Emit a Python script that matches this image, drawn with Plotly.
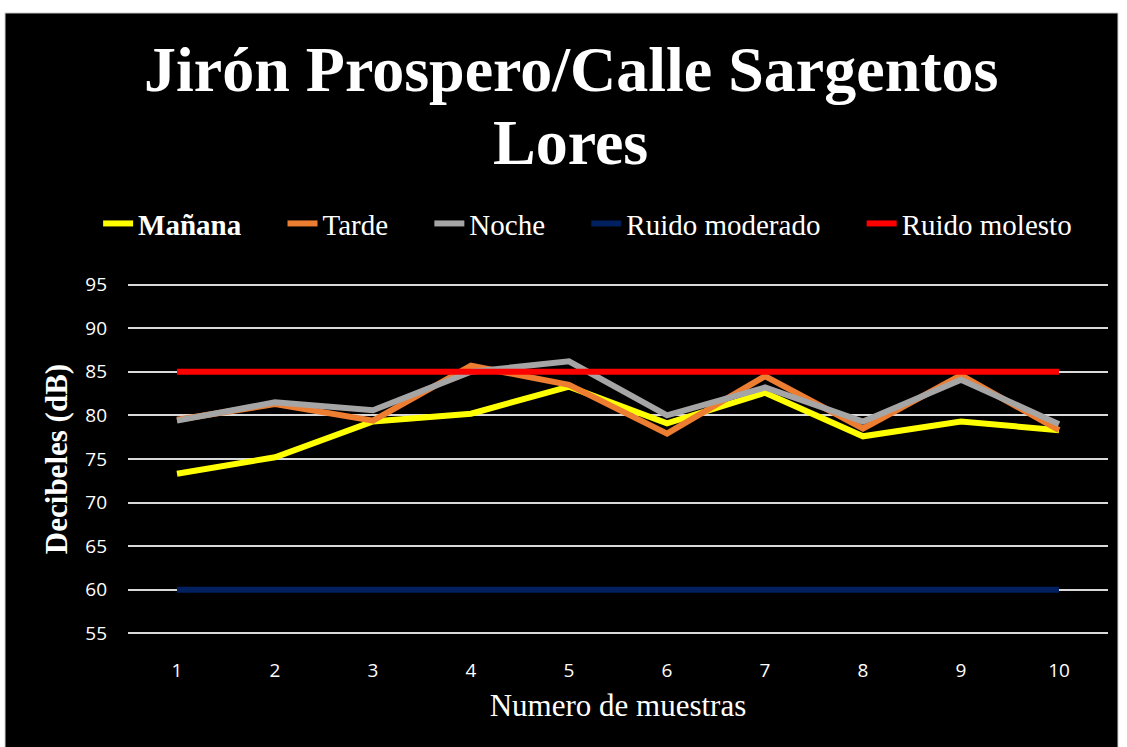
import plotly.graph_objects as go

# ---- data ----
muestras = [1, 2, 3, 4, 5, 6, 7, 8, 9, 10]
manana = [73.3, 75.2, 79.3, 80.2, 83.3, 79.1, 82.6, 77.6, 79.3, 78.3]
tarde = [79.5, 81.3, 79.4, 85.7, 83.5, 77.9, 84.5, 78.5, 84.6, 78.3]
noche = [79.4, 81.5, 80.6, 85.0, 86.2, 80.0, 83.2, 79.3, 84.1, 79.0]
ruido_moderado = [60] * 10
ruido_molesto = [85] * 10

pad = "\u00a0" * 5  # espacio extra entre entradas de la leyenda
series = [
    ("<b>Mañana</b>" + pad, manana, "#FFFF00"),
    ("Tarde" + pad, tarde, "#ED7D31"),
    ("Noche" + pad, noche, "#A5A5A5"),
    ("Ruido moderado" + pad, ruido_moderado, "#002060"),
    ("Ruido molesto", ruido_molesto, "#FF0000"),
]

serif = "Liberation Serif, Times New Roman, serif"
sans = "Open Sans, Noto Sans, sans-serif"

fig = go.Figure()
for name, vals, color in series:
    fig.add_trace(go.Scatter(
        x=muestras, y=vals, name=name, mode="lines",
        line=dict(color=color, width=6),
        hovertemplate="%{y}<extra></extra>",
    ))

# fondo negro con borde blanco arriba (como en la imagen)
fig.add_shape(type="rect", xref="paper", yref="paper",
              x0=-0.1255, x1=1.0102, y0=-0.33, y1=1.76,
              fillcolor="black", line=dict(color="#D0D0D0", width=1), layer="below")

# título en dos líneas
for txt, yy in [("<b>Jirón Prospero/Calle Sargentos</b>", 1.600), ("<b>Lores</b>", 1.395)]:
    fig.add_annotation(
        text=txt, xref="paper", yref="paper", x=0.452, y=yy,
        xanchor="center", yanchor="middle", showarrow=False,
        font=dict(family=serif, size=64, color="white"),
    )

fig.update_layout(
    width=1127, height=747,
    margin=dict(l=128, r=19, t=282, b=111),
    paper_bgcolor="white",
    plot_bgcolor="black",
    legend=dict(
        orientation="h", x=0.469, xanchor="center", y=1.165, yanchor="middle",
        font=dict(family=serif, size=29, color="white"),
        bgcolor="rgba(0,0,0,0)", tracegroupgap=0,
    ),
    showlegend=True,
)

fig.update_xaxes(
    range=[0.5, 10.5], tickvals=muestras, showgrid=False, zeroline=False,
    tickfont=dict(family=sans, size=19, color="white"),
    ticks="outside", ticklen=0, ticklabelstandoff=17,
    title=dict(text="Numero de muestras", font=dict(family=serif, size=31, color="white"), standoff=12),
)
fig.update_yaxes(
    range=[54.7, 95.3], tickvals=[55, 60, 65, 70, 75, 80, 85, 90, 95],
    showgrid=True, gridcolor="#D9D9D9", gridwidth=2, zeroline=False,
    tickfont=dict(family=sans, size=19, color="white"),
    ticklabelstandoff=20,
    title=dict(text="<b>Decibeles (dB)</b>", font=dict(family=serif, size=31, color="white"), standoff=8),
)

fig.write_html("out.html", config={"displayModeBar": False},
               post_script="document.body.style.margin='0';")
